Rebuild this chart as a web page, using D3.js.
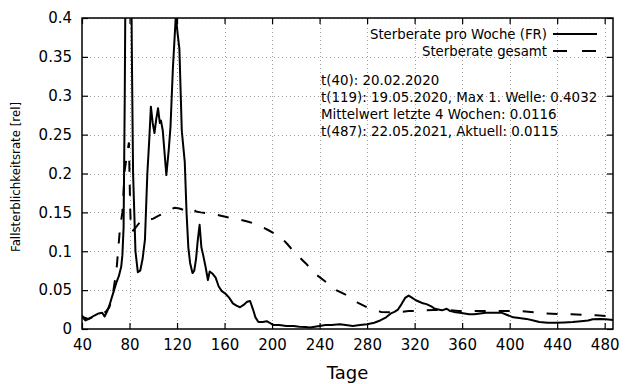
<!DOCTYPE html>
<html>
<head>
<meta charset="utf-8">
<script src="https://cdn.jsdelivr.net/npm/d3@7"></script>
<style>
  body { margin: 0; background: #fff; }
  svg { display: block; font-family: "DejaVu Sans", sans-serif; }
</style>
</head>
<body>
<div id="chart"></div>
<script>
// Sterberate pro Woche (FR)
const wocheTage = [40, 41, 43, 46, 50, 54, 57, 59, 61, 63, 65, 67, 69, 71, 73, 74, 75, 76, 77, 79, 81, 82, 83, 85, 87, 89, 91, 93, 95, 96.5, 98, 99.5, 101, 102.5, 104, 105.5, 106.5, 108, 111, 113, 114.5, 116.5, 119, 120.5, 122, 124, 126.5, 128, 129.5, 131, 133, 134.5, 136, 137.5, 139, 140.5, 142, 144, 146, 147.5, 150, 152.5, 155, 157.5, 161, 164, 167, 170, 173, 176, 179, 181.5, 184, 186, 188.5, 192, 195.5, 198, 201, 206, 212, 218, 223, 228, 232, 236, 240, 245, 250, 257, 262, 268, 274, 280, 286, 291, 296, 300, 303, 306, 309, 312, 315, 318, 321, 324, 327, 330, 334, 337, 340, 343, 347, 350, 353, 358, 362, 366, 370, 375, 380, 386, 393, 398, 403, 408, 414, 420, 425, 432, 439, 446, 453, 460, 466, 470, 476, 481, 485, 487];
const wocheRate = [0.018, 0.014, 0.011, 0.013, 0.017, 0.020, 0.021, 0.016, 0.022, 0.030, 0.040, 0.050, 0.060, 0.068, 0.080, 0.095, 0.13, 0.30, 0.55, 0.80, 0.55, 0.35, 0.20, 0.10, 0.073, 0.075, 0.09, 0.115, 0.20, 0.24, 0.286, 0.265, 0.252, 0.27, 0.284, 0.265, 0.268, 0.255, 0.198, 0.23, 0.26, 0.335, 0.4032, 0.38, 0.36, 0.255, 0.215, 0.15, 0.105, 0.085, 0.072, 0.075, 0.09, 0.115, 0.134, 0.105, 0.095, 0.08, 0.063, 0.074, 0.071, 0.066, 0.055, 0.049, 0.045, 0.040, 0.033, 0.030, 0.028, 0.031, 0.035, 0.036, 0.025, 0.015, 0.009, 0.009, 0.010, 0.008, 0.005, 0.005, 0.004, 0.004, 0.003, 0.0025, 0.002, 0.003, 0.004, 0.005, 0.005, 0.006, 0.005, 0.004, 0.005, 0.006, 0.008, 0.011, 0.015, 0.020, 0.022, 0.025, 0.032, 0.040, 0.043, 0.040, 0.037, 0.035, 0.033, 0.032, 0.029, 0.026, 0.025, 0.024, 0.026, 0.023, 0.022, 0.021, 0.020, 0.019, 0.019, 0.020, 0.021, 0.021, 0.021, 0.018, 0.015, 0.014, 0.013, 0.011, 0.009, 0.008, 0.008, 0.0085, 0.009, 0.010, 0.011, 0.0125, 0.013, 0.0125, 0.012, 0.0115];

// Sterberate gesamt
const gesamtTage = [40, 45, 50, 55, 60, 63, 66, 69, 72, 74, 76, 78, 79.5, 80, 80.5, 81, 82, 85, 90, 95, 100, 105, 110, 115, 118, 122, 128, 131, 133, 136, 140, 150, 156, 165, 172, 180, 186, 192, 197, 203, 208, 213, 218, 222, 228, 233, 238, 244, 250, 254, 261, 267, 272, 280, 286, 292, 300, 308, 315, 322, 336, 347, 357, 366, 375, 383, 400, 408, 422, 430, 442, 452, 465, 473, 481, 487];
const gesamtRate = [0.016, 0.013, 0.016, 0.019, 0.022, 0.028, 0.045, 0.075, 0.13, 0.15, 0.205, 0.225, 0.24, 0.20, 0.16, 0.135, 0.125, 0.13, 0.14, 0.14, 0.142, 0.146, 0.15, 0.154, 0.156, 0.155, 0.152, 0.153, 0.155, 0.151, 0.150, 0.148, 0.146, 0.143, 0.141, 0.138, 0.135, 0.131, 0.127, 0.122, 0.117, 0.109, 0.100, 0.094, 0.085, 0.077, 0.069, 0.062, 0.055, 0.050, 0.045, 0.039, 0.034, 0.028, 0.024, 0.022, 0.0215, 0.022, 0.023, 0.0235, 0.0245, 0.0245, 0.023, 0.023, 0.023, 0.0235, 0.023, 0.023, 0.0215, 0.020, 0.019, 0.019, 0.018, 0.0176, 0.0167, 0.0165];

const xTicks = [40, 80, 120, 160, 200, 240, 280, 320, 360, 400, 440, 480];
const yTicks = [0, 0.05, 0.1, 0.15, 0.2, 0.25, 0.3, 0.35, 0.4];
const yTickLabels = ["0", "0.05", "0.1", "0.15", "0.2", "0.25", "0.3", "0.35", "0.4"];
const legendLabels = ["Sterberate pro Woche (FR)", "Sterberate gesamt"];
const notizen = [
  "t(40): 20.02.2020",
  "t(119): 19.05.2020, Max 1. Welle: 0.4032",
  "Mittelwert letzte 4 Wochen: 0.0116",
  "t(487): 22.05.2021, Aktuell: 0.0115"
];

const width = 640;
const height = 384;
const margin = {top: 18, right: 27, bottom: 55, left: 82};

const svg = d3.select("#chart").append("svg")
    .attr("width", width)
    .attr("height", height);

const x = d3.scaleLinear()
    .domain([40, 487])
    .range([margin.left, width - margin.right]);

const y = d3.scaleLinear()
    .domain([0, 0.4])
    .range([height - margin.bottom, margin.top]);

// grid (dotted)
svg.append("g")
    .attr("stroke", "#a0a0a0")
    .attr("stroke-width", 1)
    .attr("stroke-dasharray", "1,3")
  .selectAll("line")
  .data(xTicks.filter(d => d > 40))
  .join("line")
    .attr("x1", d => Math.round(x(d)) + 0.5)
    .attr("x2", d => Math.round(x(d)) + 0.5)
    .attr("y1", y(0))
    .attr("y2", y(0.4));

svg.append("g")
    .attr("stroke", "#a0a0a0")
    .attr("stroke-width", 1)
    .attr("stroke-dasharray", "1,3")
  .selectAll("line")
  .data(yTicks.filter(d => d > 0))
  .join("line")
    .attr("x1", x(40))
    .attr("x2", x(487))
    .attr("y1", d => Math.round(y(d)) + 0.5)
    .attr("y2", d => Math.round(y(d)) + 0.5);

// axes, gnuplot style: inward ticks, mirrored
const tickLen = 6;
const xAxisBottom = d3.axisBottom(x).tickValues(xTicks).tickSizeInner(-tickLen).tickSizeOuter(0).tickPadding(10);
const xAxisTop = d3.axisTop(x).tickValues(xTicks).tickSizeInner(-tickLen).tickSizeOuter(0).tickFormat("");
const yAxisLeft = d3.axisLeft(y).tickValues(yTicks).tickSizeInner(-tickLen).tickSizeOuter(0).tickPadding(10)
    .tickFormat((d, i) => yTickLabels[i]);
const yAxisRight = d3.axisRight(y).tickValues(yTicks).tickSizeInner(-tickLen).tickSizeOuter(0).tickFormat("");

function styleAxis(g) {
  g.select(".domain").remove();
  g.selectAll(".tick line").attr("stroke", "#000").attr("stroke-width", 1.2);
  g.selectAll(".tick text").attr("fill", "#000").attr("font-size", 15)
      .attr("font-family", "DejaVu Sans, sans-serif");
}

svg.append("g").attr("transform", `translate(0,${y(0)})`).call(xAxisBottom).call(styleAxis);
svg.append("g").attr("transform", `translate(0,${y(0.4)})`).call(xAxisTop).call(styleAxis);
svg.append("g").attr("transform", `translate(${x(40)},0)`).call(yAxisLeft).call(styleAxis);
svg.append("g").attr("transform", `translate(${x(487)},0)`).call(yAxisRight).call(styleAxis);

svg.append("rect")
    .attr("x", x(40))
    .attr("y", y(0.4))
    .attr("width", x(487) - x(40))
    .attr("height", y(0) - y(0.4))
    .attr("fill", "none")
    .attr("stroke", "#000")
    .attr("stroke-width", 1.5);

// clip for the curves
svg.append("clipPath")
    .attr("id", "plot-clip")
  .append("rect")
    .attr("x", x(40))
    .attr("y", y(0.4))
    .attr("width", x(487) - x(40))
    .attr("height", y(0) - y(0.4));

const line = d3.line()
    .x(d => x(d[0]))
    .y(d => y(d[1]));

const gesamt = gesamtTage.map((t, i) => [t, gesamtRate[i]]);
const woche = wocheTage.map((t, i) => [t, wocheRate[i]]);

svg.append("path")
    .datum(gesamt)
    .attr("clip-path", "url(#plot-clip)")
    .attr("fill", "none")
    .attr("stroke", "#000")
    .attr("stroke-width", 2)
    .attr("stroke-dasharray", "11,13")
    .attr("d", line);

svg.append("path")
    .datum(woche)
    .attr("clip-path", "url(#plot-clip)")
    .attr("fill", "none")
    .attr("stroke", "#000")
    .attr("stroke-width", 2)
    .attr("stroke-linejoin", "round")
    .attr("d", line);

// legend
const legend = svg.append("g");
legendLabels.forEach((label, i) => {
  const ly = 34 + i * 17;
  legend.append("text")
      .attr("x", 547)
      .attr("y", ly)
      .attr("dy", "0.35em")
      .attr("text-anchor", "end")
      .attr("font-size", 13.3)
      .text(label);
  legend.append("line")
      .attr("x1", 553)
      .attr("x2", 597)
      .attr("y1", ly)
      .attr("y2", ly)
      .attr("stroke", "#000")
      .attr("stroke-width", 2)
      .attr("stroke-dasharray", i === 0 ? null : "14,15");
});

// notes
svg.append("g")
  .selectAll("text")
  .data(notizen)
  .join("text")
    .attr("x", 321)
    .attr("y", (d, i) => 80 + i * 17)
    .attr("dy", "0.35em")
    .attr("font-size", 13.4)
    .text(d => d);

// axis titles
svg.append("text")
    .attr("x", (x(40) + x(487)) / 2)
    .attr("y", 373)
    .attr("dy", "0.35em")
    .attr("text-anchor", "middle")
    .attr("font-size", 18)
    .text("Tage");

svg.append("text")
    .attr("transform", `translate(16,${177}) rotate(-90)`)
    .attr("dy", "0.35em")
    .attr("text-anchor", "middle")
    .attr("font-size", 11.8)
    .text("Fallsterblichkeitsrate [rel]");
</script>
</body>
</html>
